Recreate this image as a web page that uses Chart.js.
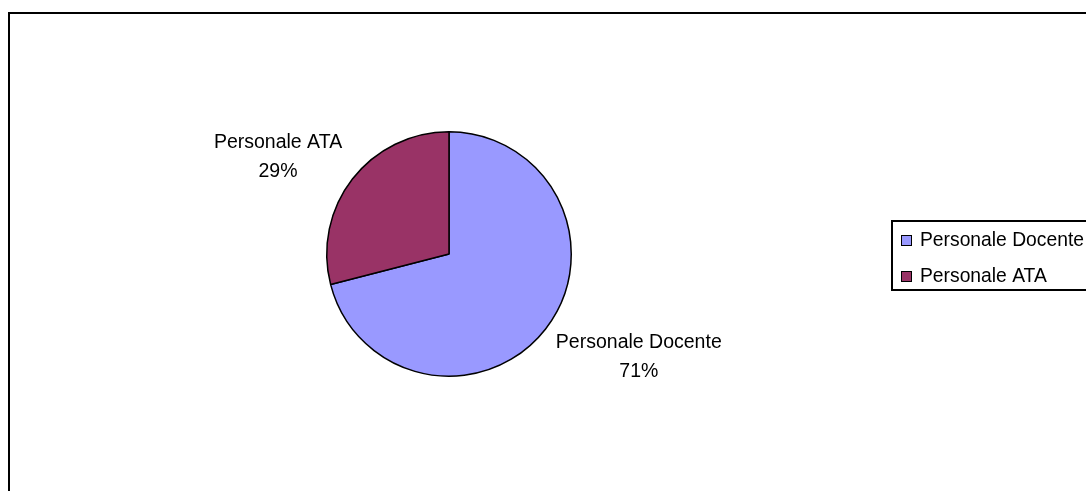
<!DOCTYPE html>
<html>
<head>
<meta charset="utf-8">
<script src="https://cdn.jsdelivr.net/npm/chart.js@4"></script>
<style>
  html, body { margin: 0; padding: 0; background: #fff; }
  #wrap { width: 1086px; height: 491px; position: relative; }
</style>
</head>
<body>
<div id="wrap"><canvas id="pieChart"></canvas></div>
<script>
var categories = ['Personale Docente', 'Personale ATA'];
var values = [71, 29];
var colors = ['#9999FF', '#993366'];

var LABEL_FONT = '19.5px "Liberation Sans", Arial, sans-serif';
var LEGEND_FONT = '19.3px "Liberation Sans", Arial, sans-serif';

// frame around the whole chart
var framePlugin = {
    id: 'frame',
    beforeDraw: function(chart) {
        var ctx = chart.ctx;
        ctx.save();
        ctx.strokeStyle = '#000';
        ctx.lineWidth = 2;
        ctx.strokeRect(9, 13, 1100, 500);
        ctx.restore();
    }
};

// labels outside each slice: name + percent
var labelPlugin = {
    id: 'outLabels',
    afterDatasetsDraw: function(chart) {
        var ctx = chart.ctx;
        var meta = chart.getDatasetMeta(0);
        var total = values.reduce(function(a, b) { return a + b; }, 0);
        var lineH = 29;
        ctx.save();
        ctx.font = LABEL_FONT;
        ctx.fillStyle = '#000';
        ctx.textBaseline = 'alphabetic';
        ctx.textAlign = 'center';
        meta.data.forEach(function(arc, i) {
            var mid = (arc.startAngle + arc.endAngle) / 2;
            var r = arc.outerRadius + 13;
            var px = arc.x + Math.cos(mid) * r;
            var py = arc.y + Math.sin(mid) * r;
            var lines = [categories[i], Math.round(values[i] / total * 100) + '%'];
            var w = Math.max.apply(null, lines.map(function(t) { return ctx.measureText(t).width; }));
            var left = Math.cos(mid) >= 0 ? px : px - w;
            var first = Math.sin(mid) >= 0 ? py + 11 : py + 6 - lineH * (lines.length - 1);
            lines.forEach(function(t, k) {
                ctx.fillText(t, left + w / 2, first + k * lineH);
            });
        });
        ctx.restore();
    }
};

// boxed legend on the right
var legendPlugin = {
    id: 'boxLegend',
    afterDraw: function(chart) {
        var ctx = chart.ctx;
        ctx.save();
        ctx.strokeStyle = '#000';
        ctx.lineWidth = 2;
        ctx.strokeRect(892, 221, 220, 69);
        ctx.font = LEGEND_FONT;
        ctx.textBaseline = 'middle';
        ctx.textAlign = 'left';
        categories.forEach(function(c, i) {
            var y = 240 + i * 36;
            ctx.fillStyle = colors[i];
            ctx.fillRect(901, y - 5, 10, 10);
            ctx.lineWidth = 1;
            ctx.strokeRect(901.5, y - 4.5, 10, 10);
            ctx.fillStyle = '#000';
            ctx.fillText(c, 920, y + 1);
        });
        ctx.restore();
    }
};

new Chart(document.getElementById('pieChart').getContext('2d'), {
    type: 'pie',
    data: {
        labels: categories,
        datasets: [{
            data: values,
            backgroundColor: colors,
            borderColor: '#000',
            borderWidth: 1.5
        }]
    },
    options: {
        responsive: true,
        maintainAspectRatio: false,
        animation: false,
        layout: { padding: { top: 131, bottom: 114, left: 326, right: 514 } },
        plugins: {
            legend: { display: false },
            tooltip: { enabled: false }
        }
    },
    plugins: [framePlugin, labelPlugin, legendPlugin]
});
</script>
</body>
</html>
